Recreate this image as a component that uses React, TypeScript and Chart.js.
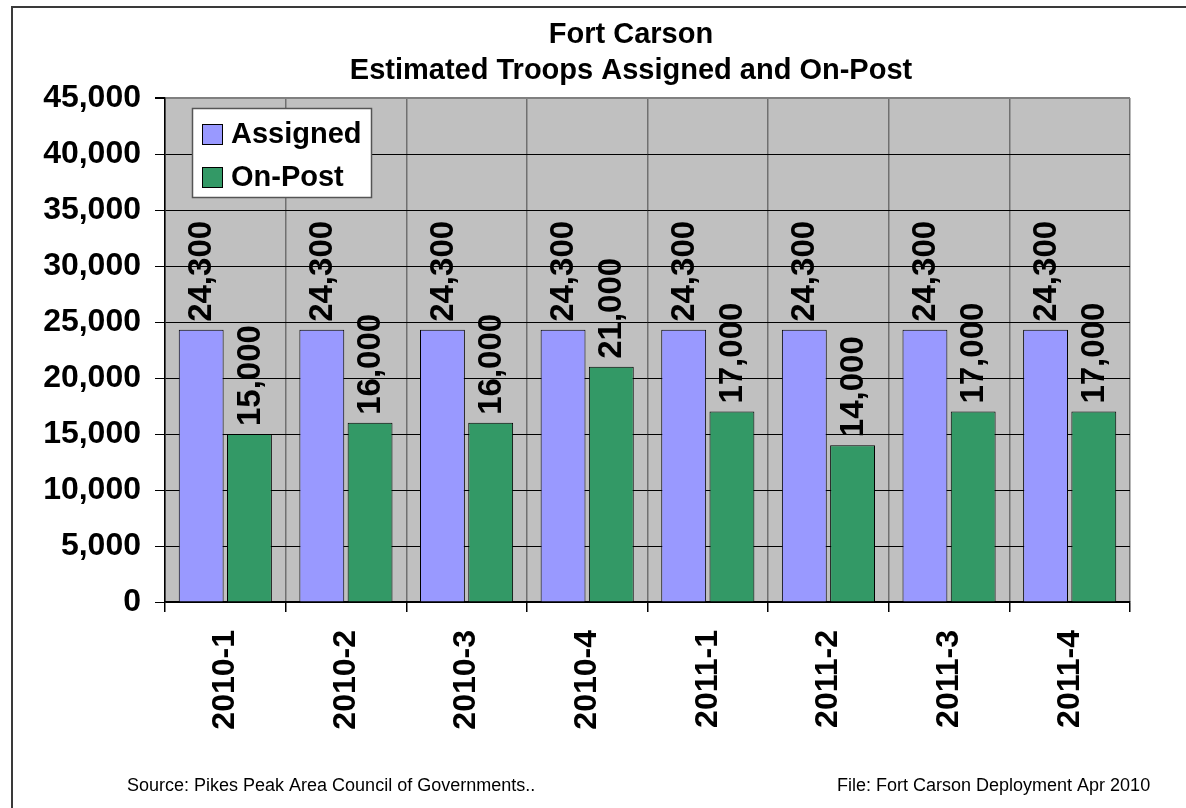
import React, { useEffect, useRef } from "react";
import { Chart, registerables } from "chart.js";

Chart.register(...registerables);

const categories = ["2010-1", "2010-2", "2010-3", "2010-4", "2011-1", "2011-2", "2011-3", "2011-4"];
const assigned = [24300, 24300, 24300, 24300, 24300, 24300, 24300, 24300];
const onPost = [15000, 16000, 16000, 21000, 17000, 14000, 17000, 17000];
const titleLines = ["Fort Carson", "Estimated Troops Assigned and On-Post"];
const sourceText = "Source: Pikes Peak Area Council of Governments..";
const fileText = "File: Fort Carson Deployment Apr 2010";

const FONT = "'Liberation Sans', Arial, sans-serif";
const W = 1186;
const H = 808;

const fmt = (v: number) => v.toLocaleString("en-US");

const decorPlugin = {
  id: "decor",
  beforeDraw(chart: any) {
    const { ctx, chartArea } = chart;
    ctx.save();
    ctx.fillStyle = "#ffffff";
    ctx.fillRect(0, 0, W, H);
    ctx.fillStyle = "#C0C0C0";
    ctx.fillRect(chartArea.left, chartArea.top, chartArea.right - chartArea.left, chartArea.bottom - chartArea.top);
    // outer frame
    ctx.strokeStyle = "#3a3a3a";
    ctx.lineWidth = 2;
    ctx.strokeRect(12, 7, W + 50, H + 50);
    // titles
    ctx.fillStyle = "#000";
    ctx.textAlign = "center";
    ctx.textBaseline = "middle";
    ctx.font = `bold 29px ${FONT}`;
    ctx.fillText(titleLines[0], 631, 35);
    ctx.fillText(titleLines[1], 631, 71);
    // footer
    ctx.font = `18px ${FONT}`;
    ctx.textAlign = "left";
    ctx.fillText(sourceText, 127, 786);
    ctx.fillText(fileText, 837, 786);
    ctx.restore();
  },
  afterDatasetsDraw(chart: any) {
    const { ctx } = chart;
    ctx.save();
    ctx.fillStyle = "#000";
    ctx.font = `bold 33px ${FONT}`;
    ctx.textAlign = "left";
    ctx.textBaseline = "middle";
    chart.data.datasets.forEach((ds: any, di: number) => {
      const meta = chart.getDatasetMeta(di);
      meta.data.forEach((bar: any, i: number) => {
        ctx.save();
        ctx.translate(bar.x + 1, bar.y - 8);
        ctx.rotate(-Math.PI / 2);
        ctx.fillText(fmt(ds.data[i]), 0, 0);
        ctx.restore();
      });
    });
    // legend
    const lx = 192, ly = 108, lw = 179, lh = 89;
    ctx.fillStyle = "#fff";
    ctx.fillRect(lx, ly, lw, lh);
    ctx.strokeStyle = "#555";
    ctx.lineWidth = 1.5;
    ctx.strokeRect(lx + 0.5, ly + 0.5, lw, lh);
    ctx.font = `bold 29px ${FONT}`;
    chart.data.datasets.forEach((ds: any, di: number) => {
      const cy = 134 + di * 43;
      ctx.fillStyle = ds.backgroundColor;
      ctx.fillRect(202, cy - 10, 20, 20);
      ctx.strokeStyle = "#000";
      ctx.lineWidth = 1;
      ctx.strokeRect(202.5, cy - 9.5, 20, 20);
      ctx.fillStyle = "#000";
      ctx.textBaseline = "middle";
      ctx.fillText(ds.label, 231, cy + 1);
    });
    ctx.restore();
  },
};

export default function App() {
  const ref = useRef<HTMLCanvasElement>(null);
  useEffect(() => {
    if (!ref.current) return;
    const chart = new Chart(ref.current, {
      type: "bar",
      data: {
        labels: categories,
        datasets: [
          {
            label: "Assigned",
            data: assigned,
            backgroundColor: "#9999FF",
            borderColor: "#000",
            borderWidth: 1,
            categoryPercentage: 0.8,
            barPercentage: 0.93,
          },
          {
            label: "On-Post",
            data: onPost,
            backgroundColor: "#339966",
            borderColor: "#000",
            borderWidth: 1,
            categoryPercentage: 0.8,
            barPercentage: 0.93,
          },
        ],
      },
      plugins: [decorPlugin],
      options: {
        responsive: false,
        animation: false,
        layout: { padding: { top: 98, left: 0, right: 56, bottom: 0 } },
        plugins: {
          legend: { display: false },
          title: { display: false },
          tooltip: { enabled: false },
        },
        scales: {
          x: {
            grid: {
              offset: true,
              color: "#707070",
              lineWidth: 1.5,
              tickLength: 10,
              tickColor: "#000",
            },
            border: { color: "#000", width: 1.5 },
            ticks: {
              color: "#000",
              font: { family: FONT, weight: "bold", size: 32 },
              maxRotation: 90,
              minRotation: 90,
              padding: 18,
            },
            afterFit: (s: any) => {
              s.height = 206;
            },
          },
          y: {
            min: 0,
            max: 45000,
            ticks: {
              stepSize: 5000,
              color: "#000",
              font: { family: FONT, weight: "bold", size: 32 },
              padding: 14,
              callback: (v: any) => fmt(Number(v)),
            },
            grid: {
              color: (c: any) => (c.tick && c.tick.value === 45000 ? "#808080" : "#000"),
              lineWidth: (c: any) => (c.tick && c.tick.value === 45000 ? 2 : 1),
              tickLength: 10,
              tickColor: "#000",
            },
            border: { color: "#000", width: 1.5 },
            afterFit: (s: any) => {
              s.width = 165;
            },
          },
        },
      },
    });
    return () => chart.destroy();
  }, []);
  return (
    <div style={{ position: "fixed", left: 0, top: 0, width: W, height: H, background: "#fff", overflow: "hidden" }}>
      <canvas ref={ref} width={W} height={H} style={{ display: "block" }} />
    </div>
  );
}
